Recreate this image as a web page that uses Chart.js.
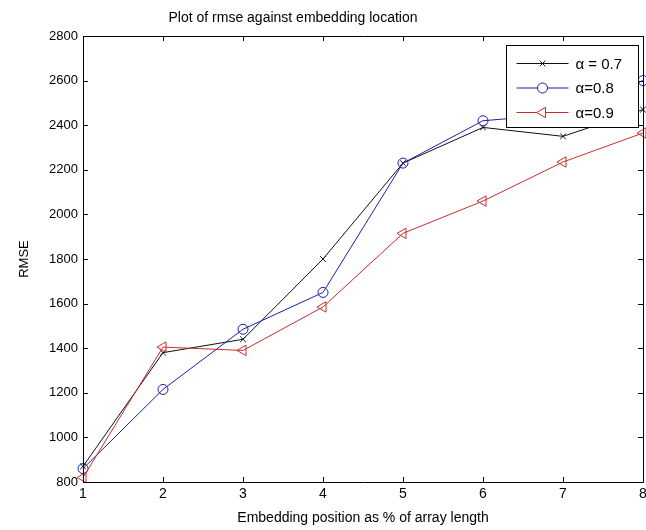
<!DOCTYPE html>
<html>
<head>
<meta charset="utf-8">
<script src="https://cdn.jsdelivr.net/npm/chart.js@4.4.1/dist/chart.umd.min.js"></script>
<style>
  html, body { margin: 0; padding: 0; background: #fff; overflow: hidden; }
  #wrap { width: 700px; height: 530px; }
</style>
</head>
<body>
<div id="wrap"><canvas id="chart1" width="700" height="530"></canvas></div>
<script>
// embedding positions on the x axis
const positions = ['1', '2', '3', '4', '5', '6', '7', '8'];

// RMSE for each alpha
const rmseAlpha07 = [870, 1380, 1440, 1800, 2230, 2390, 2350, 2470];
const rmseAlpha08 = [860, 1215, 1485, 1650, 2230, 2420, 2450, 2600];
const rmseAlpha09 = [820, 1405, 1390, 1585, 1915, 2060, 2235, 2365];

const seriesNames = ['\u03b1 = 0.7', '\u03b1=0.8', '\u03b1=0.9'];
const chartTitle = 'Plot of rmse against embedding location';

const yMin = 800, yMax = 2800, yStep = 200;

const fontFamily = '"Liberation Sans", Arial, sans-serif';

// title sits left of the axes centre in the original figure
const offsetTitle = {
    id: 'offsetTitle',
    afterDraw(chart) {
        const ctx = chart.ctx;
        const a = chart.chartArea;
        ctx.save();
        ctx.fillStyle = '#000';
        ctx.font = '14px ' + fontFamily;
        ctx.textAlign = 'center';
        ctx.textBaseline = 'middle';
        ctx.fillText(chartTitle, a.left + 210, 18);
        ctx.restore();
    }
};

// draws the axes box with inward ticks, MATLAB style
const frameAndTicks = {
    id: 'frameAndTicks',
    afterDatasetsDraw(chart) {
        const ctx = chart.ctx;
        const a = chart.chartArea;
        const xs = chart.scales.x, ys = chart.scales.y;
        const len = 5;
        ctx.save();
        ctx.strokeStyle = '#000';
        ctx.lineWidth = 1;
        ctx.beginPath();
        ctx.rect(Math.round(a.left) + 0.5, Math.round(a.top) + 0.5,
                 Math.round(a.right - a.left), Math.round(a.bottom - a.top));
        xs.ticks.forEach((t, i) => {
            const px = Math.round(xs.getPixelForTick(i)) + 0.5;
            ctx.moveTo(px, a.bottom); ctx.lineTo(px, a.bottom - len);
            ctx.moveTo(px, a.top); ctx.lineTo(px, a.top + len);
        });
        ys.ticks.forEach(t => {
            const py = Math.round(ys.getPixelForValue(t.value)) + 0.5;
            ctx.moveTo(a.left, py); ctx.lineTo(a.left + len, py);
            ctx.moveTo(a.right, py); ctx.lineTo(a.right - len, py);
        });
        ctx.stroke();
        ctx.restore();
    }
};

// legend box drawn inside the plot, top right
const insideLegend = {
    id: 'insideLegend',
    afterDraw(chart) {
        const ctx = chart.ctx;
        const a = chart.chartArea;
        const boxW = 132, boxH = 82;
        const x0 = Math.round(a.right - 5 - boxW) + 0.5;
        const y0 = Math.round(a.top + 9) + 0.5;
        ctx.save();
        ctx.fillStyle = '#fff';
        ctx.strokeStyle = '#000';
        ctx.lineWidth = 1;
        ctx.fillRect(x0, y0, boxW, boxH);
        ctx.strokeRect(x0, y0, boxW, boxH);
        chart.data.datasets.forEach((ds, i) => {
            const y = y0 + 18 + i * 24.5;
            ctx.strokeStyle = ds.borderColor;
            ctx.lineWidth = 1;
            ctx.beginPath();
            ctx.moveTo(x0 + 10, y);
            ctx.lineTo(x0 + 62, y);
            ctx.stroke();
            ctx.fillStyle = '#fff';
            Chart.helpers.drawPoint(ctx, {
                pointStyle: ds.pointStyle,
                rotation: ds.pointRotation || 0,
                radius: ds.pointRadius,
                borderWidth: 1
            }, x0 + 36, y);
            ctx.fillStyle = '#000';
            ctx.font = '15px ' + fontFamily;
            ctx.textBaseline = 'middle';
            ctx.fillText(ds.label, x0 + 69, y + 1);
        });
        ctx.restore();
    }
};

const chart1 = new Chart(document.getElementById('chart1'), {
    type: 'line',
    data: {
        labels: positions,
        datasets: [{
            label: seriesNames[0],
            data: rmseAlpha07,
            borderColor: '#111',
            backgroundColor: '#111',
            pointStyle: 'crossRot',
            pointRadius: 4,
            borderWidth: 1,
            pointBorderWidth: 1,
            order: 3
        }, {
            label: seriesNames[1],
            data: rmseAlpha08,
            borderColor: 'rgb(30,30,170)',
            backgroundColor: 'rgba(0,0,0,0)',
            pointStyle: 'circle',
            pointRadius: 5,
            borderWidth: 1,
            pointBorderWidth: 1,
            order: 2
        }, {
            label: seriesNames[2],
            data: rmseAlpha09,
            borderColor: 'rgb(200,45,45)',
            backgroundColor: 'rgba(0,0,0,0)',
            pointStyle: 'triangle',
            pointRotation: -90,
            pointRadius: 6,
            borderWidth: 1,
            pointBorderWidth: 1,
            order: 1
        }]
    },
    options: {
        responsive: false,
        animation: false,
        clip: false,
        layout: { padding: { left: 0, right: 57, top: 36, bottom: 0 } },
        elements: { line: { tension: 0 } },
        plugins: {
            legend: { display: false },
            tooltip: { enabled: false },
            title: { display: false }
        },
        scales: {
            x: {
                offset: false,
                grid: { display: false, drawTicks: false, tickLength: 0 },
                border: { display: false },
                ticks: {
                    color: '#000',
                    padding: 4,
                    maxRotation: 0,
                    font: { family: fontFamily, size: 14 }
                },
                title: {
                    display: true,
                    text: 'Embedding position as % of array length',
                    color: '#000',
                    font: { family: fontFamily, size: 14 },
                    padding: { top: 0, bottom: 3 }
                },
                afterFit: function(scale) { scale.height = 48; }
            },
            y: {
                min: yMin,
                max: yMax,
                grid: { display: false, drawTicks: false, tickLength: 0 },
                border: { display: false },
                ticks: {
                    stepSize: yStep,
                    color: '#000',
                    padding: 5,
                    font: { family: fontFamily, size: 13 },
                    callback: function(value) { return String(value); }
                },
                title: {
                    display: true,
                    text: 'RMSE',
                    color: '#000',
                    font: { family: fontFamily, size: 13 },
                    padding: { top: 17, bottom: 0 }
                },
                afterFit: function(scale) { scale.width = 83; }
            }
        }
    },
    plugins: [frameAndTicks, insideLegend, offsetTitle]
});
</script>
</body>
</html>
